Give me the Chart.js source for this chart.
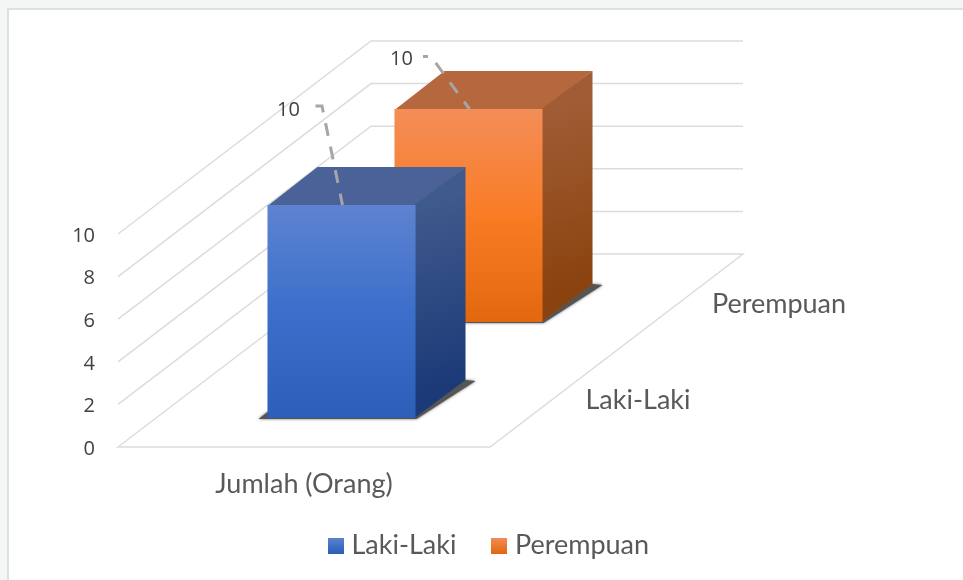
<!DOCTYPE html>
<html>
<head>
<meta charset="utf-8">
<title>Jumlah (Orang)</title>
<script src="https://cdn.jsdelivr.net/npm/chart.js@4"></script>
<style>
  html, body { margin: 0; padding: 0; background: #f4f5f5; }
  #frame { position: absolute; left: 7px; top: 8px; right: 0; bottom: 0; background: #fff; border-left: 2px solid #dedfdf; border-top: 2px solid #dedfdf; }
  #myChart { position: absolute; left: 0; top: 0; }
</style>
</head>
<body>
<div id="frame"></div>
<canvas id="myChart" width="963" height="580"></canvas>
<script>
const categories = ["Jumlah (Orang)"];
const seriesNames = ["Laki-Laki", "Perempuan"];
const lakiLaki = [10];
const perempuan = [10];
const yTicks = [0, 2, 4, 6, 8, 10];

// how the flat chart is pushed back to look 3D
const floorDepth = { dx: 253, dy: -193 };
const barDepth = { dx: 50, dy: -38 };
const looks = [
  {
    shift: { dx: 37.5, dy: -29 },
    front: ["#5e83d0", "#3b6fcb", "#2b5fb8"],
    top: "#4a6298",
    side: ["#3f5a8c", "#1c3a78"],
    leader: [[-26, -99], [-19.5, -99]],
    dashOffset: 0,
    label: [-53, -95],
    axisLabel: [638, 400],
  },
  {
    shift: { dx: 164.5, dy: -125 },
    front: ["#f48d58", "#f97c25", "#e2680f"],
    top: "#b5683e",
    side: ["#a05c35", "#8a430e"],
    leader: [[-45.5, -52.5], [-37.5, -52.5]],
    dashOffset: 8,
    label: [-67, -50],
    axisLabel: [779, 304],
  },
];

const textColor = "#595959";
const gridColor = "#dcdcdc";

function frontGradient(chart, i) {
  const area = chart.chartArea;
  const g = chart.ctx.createLinearGradient(0, area.top, 0, area.bottom);
  g.addColorStop(0, looks[i].front[0]);
  g.addColorStop(0.5, looks[i].front[1]);
  g.addColorStop(1, looks[i].front[2]);
  return g;
}

function makeSwatch(colors) {
  const c = document.createElement("canvas");
  c.width = 16;
  c.height = 16;
  const x = c.getContext("2d");
  const g = x.createLinearGradient(0, 0, 0, 16);
  g.addColorStop(0, colors[0]);
  g.addColorStop(1, colors[2]);
  x.fillStyle = g;
  x.fillRect(0, 0, 16, 16);
  return c;
}
const swatches = looks.map((l) => makeSwatch(l.front));

function poly(ctx, pts, fill) {
  ctx.beginPath();
  ctx.moveTo(pts[0][0], pts[0][1]);
  for (let i = 1; i < pts.length; i++) ctx.lineTo(pts[i][0], pts[i][1]);
  ctx.closePath();
  ctx.fillStyle = fill;
  ctx.fill();
}

const box3d = {
  id: "box3d",
  // walls and floor
  beforeDatasetsDraw(chart) {
    const { ctx, chartArea: a, scales } = chart;
    ctx.save();
    ctx.strokeStyle = gridColor;
    ctx.lineWidth = 1.5;
    yTicks.forEach((v) => {
      const y = scales.y.getPixelForValue(v);
      ctx.beginPath();
      ctx.moveTo(a.left, y);
      ctx.lineTo(a.left + floorDepth.dx, y + floorDepth.dy);
      ctx.lineTo(a.right + floorDepth.dx, y + floorDepth.dy);
      if (v === 0) {
        ctx.lineTo(a.right, y);
        ctx.closePath();
      }
      ctx.stroke();
    });
    ctx.restore();
  },
  // each bar is moved back along the floor, then gets its top, side and shadow
  beforeDatasetDraw(chart, args) {
    const { ctx } = chart;
    const look = looks[args.index];
    const bar = chart.getDatasetMeta(args.index).data[0];
    const l = bar.x - bar.width / 2;
    const r = bar.x + bar.width / 2;
    const t = bar.y;
    const b = bar.base;
    const d = barDepth;
    ctx.save();
    ctx.translate(look.shift.dx, look.shift.dy);

    ctx.save();
    ctx.shadowColor = "rgba(40,40,40,0.7)";
    ctx.shadowBlur = 3;
    poly(ctx, [[l - 9, b + 1], [r + 1, b + 1], [r + d.dx + 10, b + d.dy + 1], [r + d.dx, b + d.dy], [l, b - 6]], "#555");
    ctx.restore();

    poly(ctx, [[l, t + 1], [l + d.dx, t + d.dy], [r + d.dx, t + d.dy], [r, t + 1]], look.top);
    const g = ctx.createLinearGradient(r, t, r + d.dx, b + d.dy);
    g.addColorStop(0, look.side[0]);
    g.addColorStop(1, look.side[1]);
    // starts a pixel under the front face so no seam shows
    poly(ctx, [[r - 1, t], [r + d.dx, t + d.dy], [r + d.dx, b + d.dy], [r - 1, b]], g);
  },
  afterDatasetDraw(chart) {
    chart.ctx.restore();
  },
  // value labels with their dashed leaders, and the names along the depth axis
  afterDatasetsDraw(chart) {
    const { ctx } = chart;
    looks.forEach((look, i) => {
      const bar = chart.getDatasetMeta(i).data[0];
      const x = bar.x + look.shift.dx;
      const y = bar.y + look.shift.dy;
      ctx.save();
      ctx.strokeStyle = "#a6a6a6";
      ctx.lineWidth = 3;
      ctx.setLineDash([13, 11]);
      ctx.lineDashOffset = look.dashOffset;
      ctx.beginPath();
      ctx.moveTo(x + look.leader[0][0], y + look.leader[0][1]);
      ctx.lineTo(x + look.leader[1][0], y + look.leader[1][1]);
      ctx.lineTo(x + 1, y);
      ctx.stroke();
      ctx.setLineDash([]);
      ctx.fillStyle = "#404040";
      ctx.font = '20px "Open Sans"';
      ctx.textAlign = "center";
      ctx.textBaseline = "middle";
      ctx.fillText(String(chart.data.datasets[i].data[0]), x + look.label[0], y + look.label[1]);
      ctx.fillStyle = textColor;
      ctx.font = "27px Lato";
      ctx.fillText(seriesNames[i], look.axisLabel[0], look.axisLabel[1]);
      ctx.restore();
    });
  },
};

const ctx = document.getElementById("myChart").getContext("2d");
const myChart = new Chart(ctx, {
  type: "bar",
  plugins: [box3d],
  data: {
    labels: categories,
    datasets: [
      {
        label: seriesNames[0],
        data: lakiLaki,
        clip: false,
        grouped: false,
        backgroundColor: (c) => (c.chart.chartArea ? frontGradient(c.chart, 0) : looks[0].front[1]),
      },
      {
        label: seriesNames[1],
        data: perempuan,
        clip: false,
        grouped: false,
        backgroundColor: (c) => (c.chart.chartArea ? frontGradient(c.chart, 1) : looks[1].front[1]),
      },
    ],
  },
  options: {
    responsive: false,
    animation: false,
    events: [],
    categoryPercentage: 1,
    barPercentage: 0.398,
    layout: {
      autoPadding: false,
      padding: { left: 20, right: 0, top: 234, bottom: 11 },
    },
    scales: {
      x: {
        grid: { display: false },
        border: { display: false },
        ticks: { color: textColor, font: { family: "Lato", size: 27 }, padding: 13, maxRotation: 0 },
        afterFit(s) {
          s.height = 44;
          // the label hangs a little into the legend's top gap, don't cut it
          s._computeLabelArea = () => null;
        },
      },
      y: {
        min: 0,
        max: 10,
        afterBuildTicks(s) { s.ticks = yTicks.map((v) => ({ value: v })); },
        grid: { display: false },
        border: { display: false },
        ticks: { color: "#404040", font: { family: "Open Sans", size: 20 }, padding: 15, labelOffset: 2 },
        afterFit(s) { s.width = 98; },
      },
      // empty axis, only keeps the room to the right of the front floor edge
      pad: {
        axis: "y",
        position: "right",
        grid: { display: false },
        border: { display: false },
        ticks: { display: false },
        afterFit(s) { s.width = 473; },
      },
    },
    plugins: {
      tooltip: { enabled: false },
      legend: {
        position: "bottom",
        labels: {
          usePointStyle: true,
          pointStyleWidth: 4,
          boxHeight: 16,
          padding: 41,
          color: textColor,
          font: { family: "Lato", size: 27 },
          generateLabels(chart) {
            const items = Chart.defaults.plugins.legend.labels.generateLabels(chart);
            return items.map((it, i) => ({ ...it, pointStyle: swatches[i] }));
          },
        },
      },
    },
  },
});
</script>
</body>
</html>
